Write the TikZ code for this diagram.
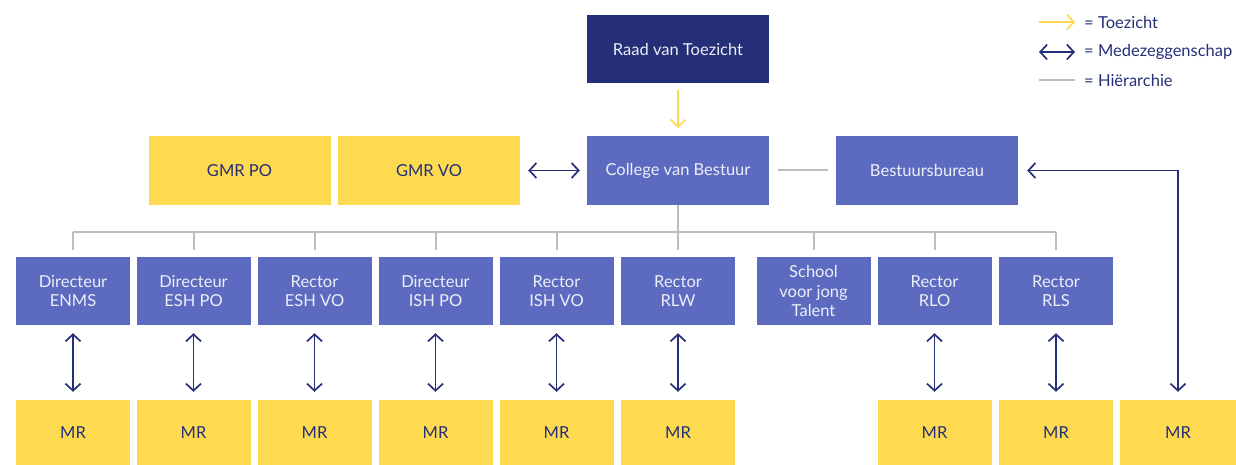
\documentclass[tikz,border=0pt]{standalone}
\usepackage{fontspec}
\setmainfont{Lato}
\usetikzlibrary{arrows.meta}

\definecolor{navy}{HTML}{252F78}
\definecolor{paars}{HTML}{5C6BC0}
\definecolor{geel}{HTML}{FDDA4F}
\definecolor{grijs}{HTML}{BDBDBD}
\definecolor{wit}{HTML}{ECEEF8}

\tikzset{
  box/.style={inner sep=0pt, align=center, font=\fontsize{16.5}{19.5}\selectfont},
  bestuur/.style={box, fill=paars, text=wit, minimum width=182pt, minimum height=69pt},
  raad/.style={box, fill=navy, text=wit, minimum width=182pt, minimum height=68pt},
  gmr/.style={box, fill=geel, text=navy, minimum width=182pt, minimum height=69pt},
  school/.style={box, fill=paars, text=wit, minimum width=114pt, minimum height=68pt},
  mr/.style={box, fill=geel, text=navy, minimum width=114pt, minimum height=65pt},
  toezicht/.style={draw=geel, line width=1.7pt, -{Straight Barb[length=7pt,width=15pt]}},
  mz/.style={draw=navy, line width=1.7pt, {Straight Barb[length=7pt,width=15pt]}-{Straight Barb[length=7pt,width=15pt]}},
  hier/.style={draw=grijs, line width=2pt},
  legenda/.style={anchor=west, inner sep=0pt, text=navy, font=\fontsize{16.5}{18}\selectfont},
}

\begin{document}
\begin{tikzpicture}[x=1pt, y=-1pt]
  \useasboundingbox (0,0) rectangle (1236,465);

  % top
  \node[raad] (rvt) at (678,49) {Raad van Toezicht};
  \node[bestuur] (cvb) at (678,170.5) {College van Bestuur};
  \node[gmr] (gmrpo) at (239.5,170.5) {GMR PO};
  \node[gmr] (gmrvo) at (429,170.5) {GMR VO};
  \node[bestuur] (bb) at (927,170.5) {Bestuursbureau};

  % scholen
  \node[school] (enms) at (73,291) {Directeur\\ENMS};
  \node[school] (eshpo) at (193.5,291) {Directeur\\ESH PO};
  \node[school] (eshvo) at (314.5,291) {Rector\\ESH VO};
  \node[school] (ishpo) at (435.5,291) {Directeur\\ISH PO};
  \node[school] (ishvo) at (556.5,291) {Rector\\ISH VO};
  \node[school] (rlw) at (678,291) {Rector\\RLW};
  \node[school] (svjt) at (813.5,291) {School\\voor jong\\Talent};
  \node[school] (rlo) at (934.5,291) {Rector\\RLO};
  \node[school] (rls) at (1056,291) {Rector\\RLS};

  % MR
  \node[mr] (mr1) at (73,432.5) {MR};
  \node[mr] (mr2) at (193.5,432.5) {MR};
  \node[mr] (mr3) at (314.5,432.5) {MR};
  \node[mr] (mr4) at (435.5,432.5) {MR};
  \node[mr] (mr5) at (556.5,432.5) {MR};
  \node[mr] (mr6) at (678,432.5) {MR};
  \node[mr] (mr7) at (934.5,432.5) {MR};
  \node[mr] (mr8) at (1056,432.5) {MR};
  \node[mr, minimum width=116pt] (mr9) at (1178,432.5) {MR};

  % hierarchie
  \coordinate (hl) at (73,232);
  \coordinate (hr) at (1056,232);
  \draw[hier] (hl) -- (hr);
  \draw[hier] (cvb.south) -- (cvb.south |- hl);
  \draw[hier, shorten <=9pt, shorten >=8pt] (cvb.east) -- (bb.west);
  \foreach \s in {enms,eshpo,eshvo,ishpo,ishvo,rlw,svjt,rlo,rls}
    \draw[hier, shorten >=7pt] (\s.north |- hl) -- (\s.north);

  % toezicht
  \draw[toezicht, shorten <=7pt, shorten >=8pt] (rvt.south) -- (cvb.north);

  % medezeggenschap
  \draw[mz, shorten <=8pt, shorten >=7pt] (gmrvo.east) -- (cvb.west);
  \foreach \s/\m in {enms/mr1,eshpo/mr2,eshvo/mr3,ishpo/mr4,ishvo/mr5,rlw/mr6,rlo/mr7,rls/mr8}
    \draw[mz, shorten <=8pt, shorten >=8pt] (\s.south) -- (\m.north);
  \draw[mz, shorten <=9pt, shorten >=8pt] (bb.east) -| (mr9.north);

  % legenda
  \coordinate (l1a) at (1039,22);
  \coordinate (l1b) at (1075,22);
  \coordinate (l2a) at (1039,52);
  \coordinate (l2b) at (1075,52);
  \coordinate (l3a) at (1039,80);
  \coordinate (l3b) at (1075,80);
  \draw[toezicht] (l1a) -- (l1b);
  \draw[mz] (l2a) -- (l2b);
  \draw[hier] (l3a) -- (l3b);
  \node[legenda] (t1) at (1084,22) {= Toezicht};
  \node[legenda] (t2) at (1084,52) {= Medezeggenschap};
  \node[legenda] (t3) at (1084,80) {= Hiërarchie};

\end{tikzpicture}
\end{document}
